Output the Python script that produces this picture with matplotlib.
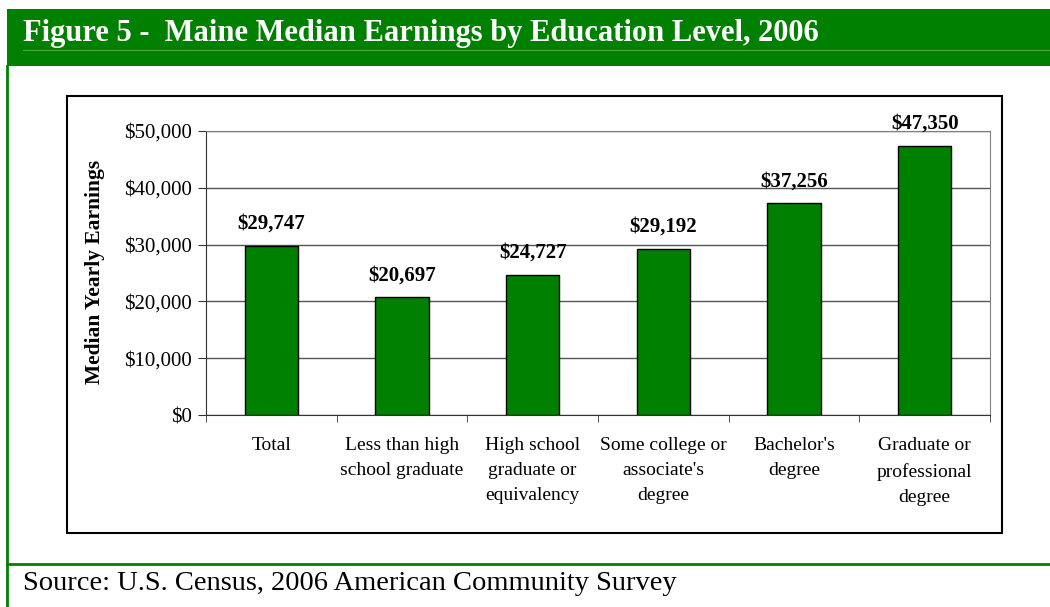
import matplotlib
matplotlib.use('Agg')
import matplotlib.pyplot as plt
from matplotlib.patches import Rectangle
from matplotlib.lines import Line2D
from matplotlib.ticker import FuncFormatter, FixedLocator

plt.rcParams['font.family'] = ['Liberation Serif', 'DejaVu Serif']

categories = ['Total', 'Less than high\nschool graduate', 'High school\ngraduate or\nequivalency',
              'Some college or\nassociate\'s\ndegree', 'Bachelor\'s\ndegree', 'Graduate or\nprofessional\ndegree']
earnings = [29747, 20697, 24727, 29192, 37256, 47350]
yticks = [0, 10000, 20000, 30000, 40000, 50000]

W, H = 1050, 607
green = '#008000'

fig = plt.figure(figsize=(W / 100, H / 100), dpi=100)

# frame: title bar, left border, source divider, chart box
fig.patches.append(Rectangle((7 / W, 1 - 66 / H), 1 - 7 / W, 57 / H, transform=fig.transFigure,
                             facecolor=green, edgecolor='none', zorder=0))
fig.lines.append(Line2D([23 / W, 1], [1 - 50 / H, 1 - 50 / H], transform=fig.transFigure,
                        color='#4da64d', lw=0.8))
fig.lines.append(Line2D([7 / W, 7 / W], [0, 1 - 66 / H], transform=fig.transFigure, color=green, lw=2))
fig.lines.append(Line2D([7 / W, 1], [1 - 564 / H, 1 - 564 / H], transform=fig.transFigure, color=green, lw=2))
fig.patches.append(Rectangle((67 / W, 1 - 533 / H), 935 / W, 437 / H, transform=fig.transFigure,
                             facecolor='none', edgecolor='black', lw=1.5, zorder=0))

fig.text(23 / W, 1 - 34 / H, 'Figure 5 -  Maine Median Earnings by Education Level, 2006',
         color='white', fontsize=22, fontweight='bold', va='center', ha='left')
fig.text(23 / W, 1 - 583 / H, 'Source: U.S. Census, 2006 American Community Survey',
         color='black', fontsize=20.5, va='center', ha='left')

ax = fig.add_axes([206 / W, 1 - 415 / H, 784 / W, 284 / H])
x = list(range(len(categories)))
bars = ax.bar(x, earnings, width=0.41, color=green, edgecolor='black', lw=1, zorder=3)

for xi, v in zip(x, earnings):
    ax.annotate('${:,.0f}'.format(v), (xi, v), xytext=(0, 16), textcoords='offset points',
                ha='center', va='center', fontsize=15, fontweight='bold')

ax.set_xlim(-0.5, len(categories) - 0.5)
ax.set_ylim(0, 50000)
ax.set_yticks(yticks)
ax.yaxis.set_major_formatter(FuncFormatter(lambda v, p: '${:,.0f}'.format(v)))
ax.yaxis.grid(True, color='#555555', lw=1, zorder=0)
ax.set_xticks(x)
ax.set_xticklabels(categories, fontsize=14, linespacing=1.62, va='top')
ax.xaxis.set_minor_locator(FixedLocator([i - 0.5 for i in range(len(categories) + 1)]))
ax.tick_params(axis='x', which='major', length=0, pad=16)
ax.tick_params(axis='x', which='minor', length=5, direction='out', color='#333333')
ax.tick_params(axis='y', length=6, direction='out', color='#333333', labelsize=15, pad=4)

for s in ['left', 'bottom']:
    ax.spines[s].set_color('#333333')
for s in ['right', 'top']:
    ax.spines[s].set_color('#808080')

fig.text(95 / W, 1 - 272 / H, 'Median Yearly Earnings', rotation=90, fontsize=15.5, fontweight='bold',
         ha='center', va='center')

fig.savefig('out.png', dpi=100)
